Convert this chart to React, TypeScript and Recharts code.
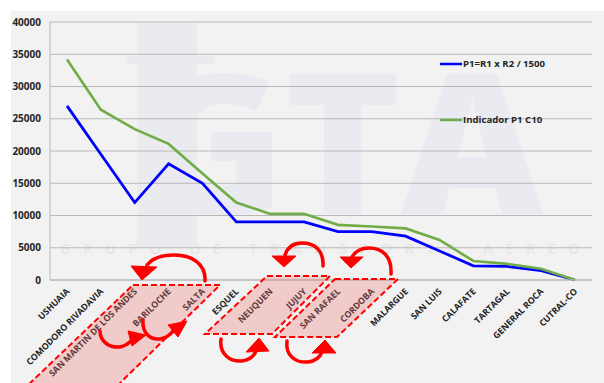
import React from 'react';
import { LineChart, Line, XAxis, YAxis, CartesianGrid, Legend } from 'recharts';

const cities = [
  'USHUAIA',
  'COMODORO RIVADAVIA',
  'SAN MARTIN DE LOS ANDES',
  'BARILOCHE',
  'SALTA',
  'ESQUEL',
  'NEUQUEN',
  'JUJUY',
  'SAN RAFAEL',
  'CORDOBA',
  'MALARGUE',
  'SAN LUIS',
  'CALAFATE',
  'TARTAGAL',
  'GENERAL ROCA',
  'CUTRAL-CO',
];

const p1Values = [27000, 19500, 12000, 18000, 15000, 9000, 9000, 9000, 7500, 7500, 6800, 4500, 2200, 2100, 1450, 0];
const indicadorValues = [34200, 26400, 23400, 21100, 16500, 12000, 10250, 10250, 8550, 8300, 8000, 6200, 2950, 2500, 1750, 0];
const yTicks = [0, 5000, 10000, 15000, 20000, 25000, 30000, 35000, 40000];

const P1_NAME = 'P1=R1 x R2 / 1500';
const IND_NAME = 'Indicador P1 C10';

const data = cities.map((name, i) => ({
  name,
  p1: p1Values[i],
  indicador: indicadorValues[i],
}));

const W = 604;
const H = 383;
const FONT = '"Open Sans", "DejaVu Sans", sans-serif';
const TEXT = '#262626';
const RED = '#ff0000';

const CityTick = (props: any) => {
  const { x, y, payload } = props;
  const tx = x + 3;
  const ty = y + 4;
  return (
    <text
      x={tx}
      y={ty}
      transform={`rotate(-45 ${tx} ${ty})`}
      textAnchor="end"
      fontFamily={FONT}
      fontWeight={700}
      fontSize={8.8}
      fill={TEXT}
    >
      {payload.value}
    </text>
  );
};

const renderLegend = (props: any) => {
  const items = props.payload || [];
  const order = ['p1', 'indicador'];
  const sorted = order
    .map((key) => items.find((it: any) => it.dataKey === key))
    .filter(Boolean);
  return (
    <svg width={160} height={76} style={{ overflow: 'visible' }}>
      {sorted.map((item: any, i: number) => {
        const cy = 9 + i * 56;
        return (
          <g key={item.value}>
            <line x1={0} x2={22} y1={cy} y2={cy} stroke={item.color} strokeWidth={2.5} />
            <text
              x={23}
              y={cy}
              dy="0.35em"
              fontFamily={FONT}
              fontWeight={700}
              fontSize={9.6}
              fill={TEXT}
            >
              {item.value}
            </text>
          </g>
        );
      })}
    </svg>
  );
};

// faint logo behind the plot
const Watermark = () => (
  <svg width={W} height={H} style={{ position: 'absolute', left: 0, top: 0 }}>
    <rect x={0} y={0} width={W} height={H} fill="#ffffff" />
    <rect x={11} y={11} width={W - 11} height={H - 11} fill="#f2f2f2" />
    <rect x={137} y={22} width={60} height={225} fill="#eaebef" />
    <rect x={127} y={56} width={88} height={8} fill="#eaebef" />
    <text
      x={140}
      y={214}
      fontFamily={FONT}
      fontWeight={800}
      fontSize={196}
      fill="#e9ebf0"
    >
      GTA
    </text>
    <text
      x={60}
      y={254}
      textLength={520}
      lengthAdjust="spacing"
      fontFamily={FONT}
      fontWeight={700}
      fontSize={15}
      fill="#e8e8e8"
    >
      GRUPO DE TRANSPORTE AÉREO
    </text>
  </svg>
);

// red markers drawn over the city labels
const Annotations = () => {
  const boxFill = 'rgba(240,110,110,0.3)';
  const boxes = [
    '133,285 220,285 117,386 27,386',
    '267,276 330,276 272,334 205,334',
    '335,279 398,279 337,337 275,337',
  ];
  const arcs = [
    'M 205 281 C 206 264, 192 255, 174 255 C 160 255, 151 260, 147 265',
    'M 100 331 C 100 342, 110 348, 120 347 C 126 346, 129 343, 132 340',
    'M 143 320 C 142 333, 150 340, 160 339 C 166 338, 171 334, 174 330',
    'M 323 266 C 324 250, 314 243, 302 243 C 292 243, 287 249, 285 255',
    'M 391 274 C 392 256, 382 248, 369 248 C 360 248, 355 252, 352 257',
    'M 221 339 C 219 354, 230 362, 242 361 C 250 360, 254 356, 256 351',
    'M 287 341 C 285 356, 296 363, 308 362 C 316 361, 320 357, 322 352',
  ];
  const heads = [
    '131,266 157,267 142,280',
    '128,331 146,335 132,346',
    '168,325 187,321 178,337',
    '272,256 296,256 284,267',
    '340,257 363,257 351,268',
    '246,352 269,351 259,338',
    '312,353 336,353 325,340',
  ];
  return (
    <svg width={W} height={H} style={{ position: 'absolute', left: 0, top: 0, pointerEvents: 'none' }}>
      {boxes.map((pts) => (
        <polygon key={pts} points={pts} fill={boxFill} stroke={RED} strokeWidth={2} strokeDasharray="6 3" />
      ))}
      {arcs.map((d) => (
        <path key={d} d={d} fill="none" stroke={RED} strokeWidth={3.5} strokeLinecap="round" />
      ))}
      {heads.map((pts) => (
        <polygon key={pts} points={pts} fill={RED} stroke={RED} strokeWidth={1} strokeLinejoin="round" />
      ))}
    </svg>
  );
};

export default function App() {
  return (
    <div style={{ position: 'fixed', left: 0, top: 0, width: W, height: H, overflow: 'hidden' }}>
      <Watermark />
      <div style={{ position: 'absolute', left: 0, top: 0 }}>
        <LineChart width={W} height={H} data={data} margin={{ top: 22, right: 12, bottom: 3, left: 0 }}>
          <CartesianGrid vertical={false} stroke="#b8b8b8" strokeWidth={1} />
          <XAxis
            dataKey="name"
            interval={0}
            height={100}
            padding={{ left: 17, right: 17 }}
            tickLine={false}
            axisLine={{ stroke: '#b8b8b8' }}
            tick={<CityTick />}
          />
          <YAxis
            width={50}
            domain={[0, 40000]}
            ticks={yTicks}
            interval={0}
            tickLine={false}
            tickMargin={3}
            axisLine={{ stroke: '#b8b8b8' }}
            tick={{ fontFamily: FONT, fontWeight: 700, fontSize: 10, fill: TEXT }}
          />
          <Legend
            layout="vertical"
            verticalAlign="middle"
            align="center"
            content={renderLegend}
            wrapperStyle={{ position: 'absolute', left: 440, top: 55, width: 160, height: 76 }}
          />
          <Line
            name={P1_NAME}
            dataKey="p1"
            stroke="#0000ff"
            strokeWidth={2.8}
            dot={false}
            isAnimationActive={false}
          />
          <Line
            name={IND_NAME}
            dataKey="indicador"
            stroke="#70ad47"
            strokeWidth={2.6}
            dot={false}
            isAnimationActive={false}
          />
        </LineChart>
      </div>
      <Annotations />
    </div>
  );
}
